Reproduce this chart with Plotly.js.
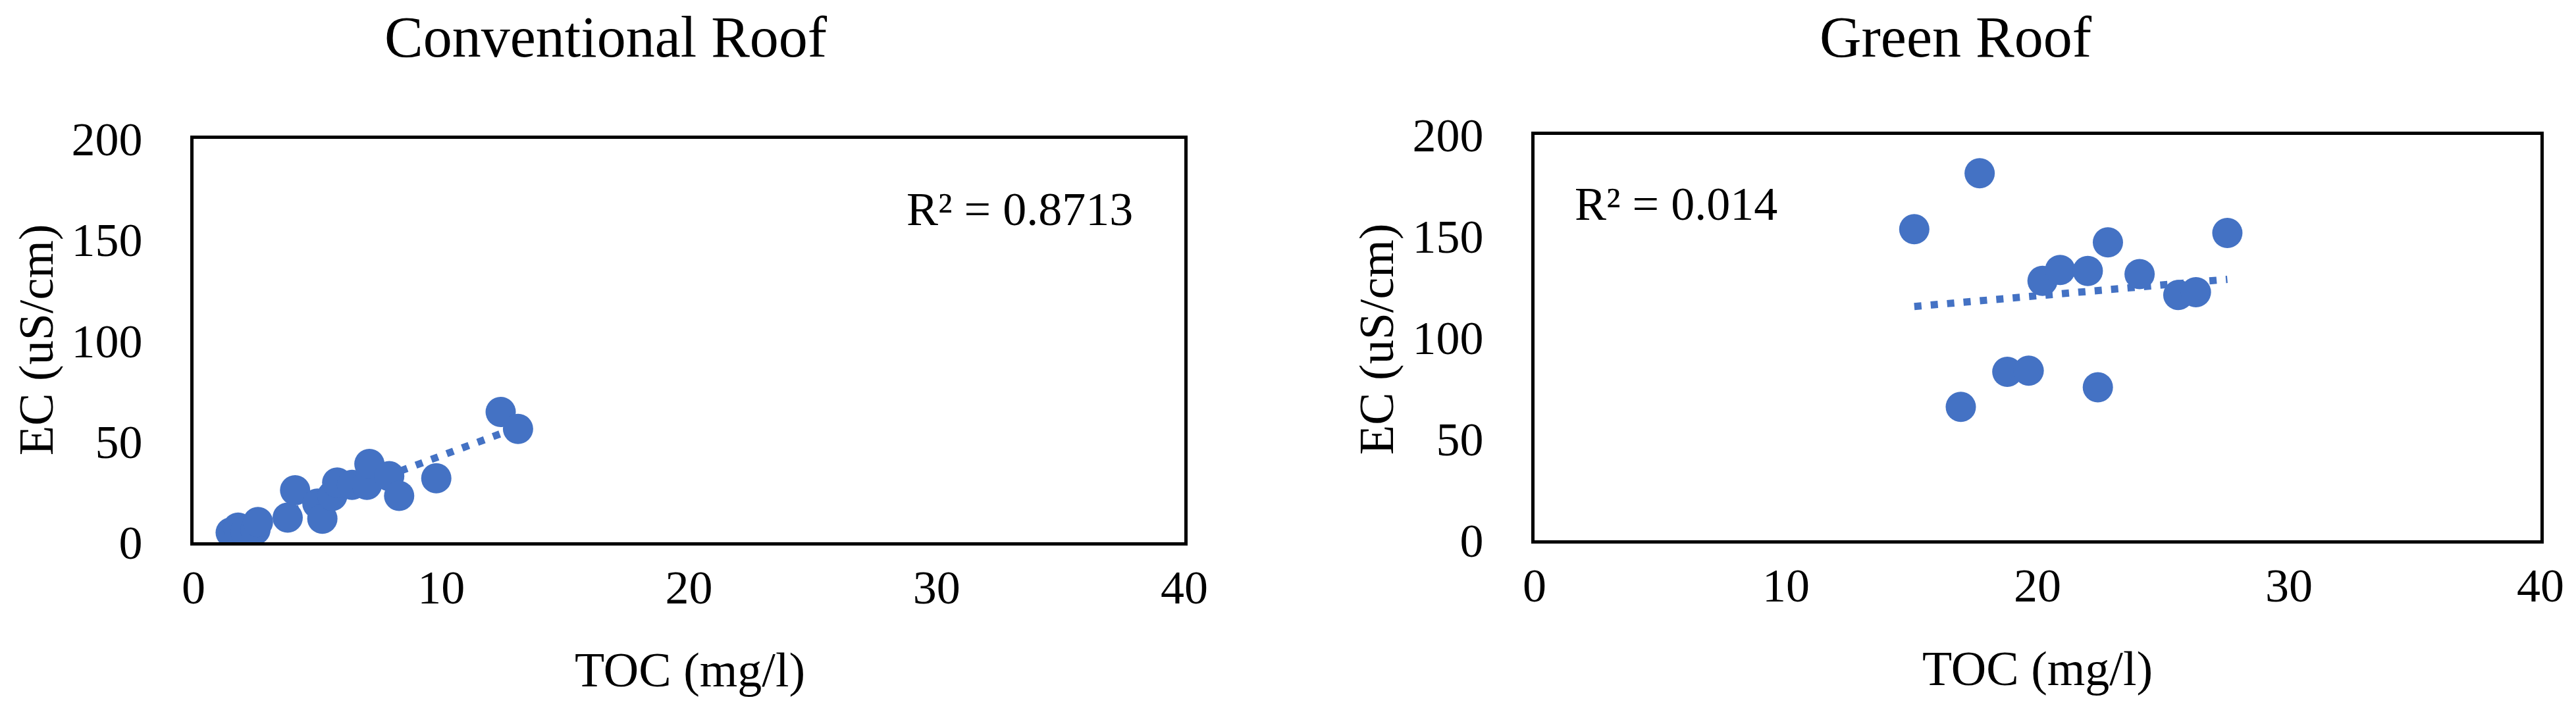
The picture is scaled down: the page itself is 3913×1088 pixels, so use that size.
<!DOCTYPE html>
<html>
<head>
<meta charset="utf-8">
<script src="https://cdn.plot.ly/plotly-3.0.1.min.js"></script>
<style>
  html, body { margin: 0; padding: 0; background: #fff; }
  #chart { width: 3913px; height: 1088px; }
</style>
</head>
<body>
<div id="chart"></div>
<script>
// values
const conventionalToc = [1.5, 1.8, 2.1, 2.5, 2.6, 3.8, 4.1, 5.0, 5.2, 5.6, 5.8, 6.4, 7.0, 7.1, 7.9, 8.3, 9.8, 12.4, 13.1];
const conventionalEc  = [4.8, 7.3, 5.5, 6.2, 10.0, 12.2, 25.8, 19.2, 11.7, 23.0, 29.6, 28.5, 28.5, 38.8, 32.8, 23.0, 31.7, 64.6, 56.2];
const greenToc = [15.1, 17.7, 16.95, 18.8, 19.65, 20.2, 20.9, 22.0, 22.8, 22.4, 24.06, 25.6, 26.3, 27.55];
const greenEc  = [153.5, 181.1, 65.8, 83.1, 83.7, 128.0, 133.4, 132.9, 147.0, 75.5, 131.3, 121.0, 122.4, 151.6];

const panelTitles = ["Conventional Roof", "Green Roof"];
const rSquaredLabels = ["R\u00b2 = 0.8713", "R\u00b2 = 0.014"];
const xAxisLabel = "TOC (mg/l)";
const yAxisLabel = "EC (uS/cm)";
const xTicks = [0, 10, 20, 30, 40];
const yTicks = [0, 50, 100, 150, 200];

const W = 3913, H = 1088;
const fx = px => px / W;
const fy = py => 1 - py / H;
const BLUE = "#4472C4";
const FONT = "Liberation Serif, Times New Roman, serif";

// least squares line, like Excel's linear trendline
function linearFit(xs, ys) {
  const n = xs.length;
  const mx = xs.reduce((a, b) => a + b, 0) / n;
  const my = ys.reduce((a, b) => a + b, 0) / n;
  let sxy = 0, sxx = 0;
  for (let i = 0; i < n; i++) {
    sxy += (xs[i] - mx) * (ys[i] - my);
    sxx += (xs[i] - mx) * (xs[i] - mx);
  }
  const slope = sxy / sxx;
  return { slope, intercept: my - slope * mx };
}

function trendTrace(xs, ys, xa, ya) {
  const fit = linearFit(xs, ys);
  const lo = Math.min(...xs), hi = Math.max(...xs);
  return {
    x: [lo, hi],
    y: [fit.intercept + fit.slope * lo, fit.intercept + fit.slope * hi],
    mode: "lines",
    type: "scatter",
    xaxis: xa, yaxis: ya,
    hoverinfo: "skip",
    line: { color: BLUE, width: 11, dash: "11px,14px" }
  };
}

function pointTrace(xs, ys, xa, ya) {
  return {
    x: xs, y: ys,
    mode: "markers",
    type: "scatter",
    xaxis: xa, yaxis: ya,
    marker: { color: BLUE, size: 46 }
  };
}

const data = [
  trendTrace(conventionalToc, conventionalEc, "x", "y"),
  pointTrace(conventionalToc, conventionalEc, "x", "y"),
  trendTrace(greenToc, greenEc, "x2", "y2"),
  pointTrace(greenToc, greenEc, "x2", "y2")
];

function xAxis(domain, anchor) {
  return {
    domain, anchor,
    range: [0, 40],
    tickvals: xTicks,
    ticks: "",
    ticklabelstandoff: 2,
    showgrid: false, zeroline: false,
    showline: true, mirror: true, linecolor: "black", linewidth: 5,
    tickfont: { family: FONT, size: 72, color: "black" },
    fixedrange: true
  };
}

function yAxis(domain, anchor) {
  return {
    domain, anchor,
    range: [0, 200],
    tickvals: yTicks,
    ticks: "",
    ticklabelstandoff: 58,
    showgrid: false, zeroline: false,
    showline: true, mirror: true, linecolor: "black", linewidth: 5,
    tickfont: { family: FONT, size: 72, color: "black" },
    fixedrange: true
  };
}

function label(text, x, y, size, extra) {
  return Object.assign({
    text, x: fx(x), y: fy(y), xref: "paper", yref: "paper",
    showarrow: false, xanchor: "center", yanchor: "middle",
    font: { family: FONT, size, color: "black" }
  }, extra || {});
}

const layout = {
  width: W, height: H,
  margin: { l: 0, r: 0, t: 0, b: 0 },
  paper_bgcolor: "white",
  plot_bgcolor: "white",
  showlegend: false,
  xaxis: xAxis([fx(294), fx(1799)], "y"),
  yaxis: yAxis([fy(824), fy(211)], "x"),
  xaxis2: xAxis([fx(2331), fx(3859)], "y2"),
  yaxis2: yAxis([fy(821), fy(205)], "x2"),
  annotations: [
    label(panelTitles[0], 920, 56, 88),
    label(panelTitles[1], 2971, 56, 88),
    label(yAxisLabel, 55, 517, 74, { textangle: -90 }),
    label(yAxisLabel, 2091, 516, 74, { textangle: -90 }),
    label(xAxisLabel, 1048, 1018, 74),
    label(xAxisLabel, 3095, 1016, 74),
    label(rSquaredLabels[0], 1375, 318, 72, { xanchor: "left" }),
    label(rSquaredLabels[1], 2390, 310, 72, { xanchor: "left" })
  ]
};

Plotly.newPlot("chart", data, layout, { displayModeBar: false, staticPlot: true });
</script>
</body>
</html>
